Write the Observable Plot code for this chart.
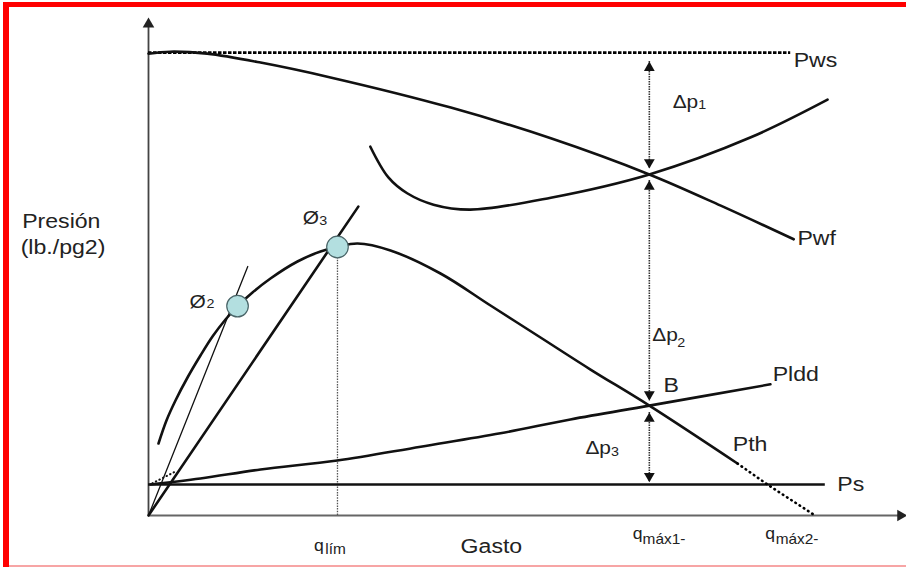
<!DOCTYPE html>
<html><head><meta charset="utf-8">
<script src="https://cdn.jsdelivr.net/npm/d3@7"></script>
<script src="https://cdn.jsdelivr.net/npm/@observablehq/plot@0.6"></script>
<style>
html,body{margin:0;padding:0;background:#fff;}
#wrap{position:relative;width:906px;height:567px;overflow:hidden;background:#fff;}
#wrap svg{position:absolute;left:0;top:0;}
.bd{position:absolute;}
</style></head><body>
<div id="wrap"></div>
<script>
// ---- data (arbitrary units: gasto 0-100, presión 0-100) ----
const pwsLevel = 93.5, pwsEnd = 85.4;
const pwfX = [0, 2.9, 7.8, 14.9, 24.2, 40.2, 53.5, 66.6, 76.1, 85.8];
const pwfY = [93.3, 93.7, 93.3, 91.5, 88.5, 82.4, 76.2, 68.9, 62.6, 55.8];
const tubX = [29.5, 31.9, 34.4, 37.9, 42.8, 53.5, 66.6, 80.1, 90.3];
const tubY = [74.5, 68.3, 65.1, 62.8, 61.8, 64.2, 68.9, 76.4, 84.0];
const pthX = [1.33, 2.39, 3.59, 5.19, 6.91, 8.51, 10.24, 11.84, 13.83, 16.22, 19.81, 22.87, 25.13, 27.79, 32.18, 38.83, 45.48, 52.13, 58.78, 66.6, 78.32];
const pthY = [14.55, 19.19, 23.23, 27.88, 32.32, 36.16, 39.60, 42.3, 45.05, 47.88, 51.31, 53.33, 54.24, 54.95, 53.54, 48.89, 42.42, 35.96, 29.49, 22.2, 10.51];
const pthExtX = [78.32, 82.31, 88.43];
const pthExtY = [10.51, 6.26, 0.2];
const plddX = [0.27, 6.9, 14.9, 25.1, 36.2, 46.8, 56.1, 66.6, 82.7];
const plddY = [6.26, 7.47, 9.29, 11.1, 13.9, 16.6, 19.4, 22.2, 26.5];
const plddDotX = [0.5, 3.6];
const plddDotY = [6.5, 8.9];
const psLevel = 6.26, psEnd = 90.0;
const phiNames = ["Ø", "Ø"];
const phiSubs = ["2", "3"];
const phiX = [11.84, 25.13];
const phiY = [42.3, 54.24];
const phiLineEndX = [13.2, 27.9];
const phiLineEndY = [50.3, 62.4];
const qLim = 25.13, qMax1 = 66.6;
const dpTop = [91.7, 67.7, 20.8];
const dpBottom = [70.1, 23.2, 6.7];
const axisTop = 100.6, axisRight = 100.9;

// ---- labels ----
const curveLabels = ["Pws", "Pwf", "Pldd", "Ps", "Pth", "B"];
const curveLabelX = [85.8, 86.3, 83.0, 91.6, 77.7, 68.5];
const curveLabelY = [92.0, 56.0, 28.5, 6.3, 14.3, 26.3];
const dpLabelX = [69.7, 67.0, 58.1];
const dpLabelY = [83.6, 36.4, 13.7];
const dpSubs = ["1", "2", "3"];
const dpSubX = [73.1, 70.3, 61.5];
const dpSubY = [83.0, 34.9, 12.9];
const phiLabelX = [5.45, 20.5];
const phiLabelY = [43.2, 60.2];
const phiSubX = [7.7, 22.7];
const phiSubY = [42.8, 59.6];
const axisTitles = ["Presión", "(lb./pg2)", "Gasto"];
const axisTitleX = [-16.8, -17.0, 41.5];
const axisTitleY = [59.4, 54.1, -6.26];
const qSubs = ["lím", "máx1-", "máx2-"];
const qX = [22.0, 64.4, 82.0];
const qY = [-6.06, -3.64, -3.64];
const qSubX = [23.5, 65.7, 83.4];
const qSubY = [-6.87, -4.75, -4.75];

// ---- helpers ----
const pts = (xs, ys) => xs.map((x, i) => ({x, y: ys[i]}));
const lab = (ts, xs, ys) => ts.map((t, i) => ({t, x: xs[i], y: ys[i]}));
const ink = "#111", txt = "#222";

const dp = dpTop.map((t, i) => ({top: t, bottom: dpBottom[i]}));
const phiLines = phiLineEndX.map((x, i) => [{x: 0, y: 0, k: i}, {x, y: phiLineEndY[i], k: i}]).flat();

const plot = Plot.plot({
  width: 906, height: 567,
  marginLeft: 148, marginRight: 6, marginTop: 20, marginBottom: 52,
  x: {domain: [0, 100], axis: null},
  y: {domain: [0, 100], axis: null},
  style: {fontFamily: "'Liberation Sans', Arial, sans-serif", background: "transparent", overflow: "visible"},
  marks: [
    // axes
    Plot.ruleX([0], {y1: 0, y2: axisTop - 1.5, stroke: "#444", strokeWidth: 1.8}),
    Plot.ruleY([0], {x1: 0, x2: axisRight - 1, stroke: "#666", strokeWidth: 1.8}),
    Plot.dot([{x: 0, y: axisTop}], {x: "x", y: "y", symbol: "triangle", r: 4.3, fill: "#222", stroke: null, dy: 6.7}),
    Plot.dot([{x: axisRight, y: 0}], {x: "x", y: "y", symbol: "triangle", r: 4.3, fill: "#222", stroke: null, rotate: 90, dx: -6.7}),
    // q_lim dotted
    Plot.ruleX([qLim], {y1: 0, y2: phiY[1] - 2, stroke: "#555", strokeWidth: 1.3, strokeDasharray: "1.5,1.2"}),
    // Pws dotted
    Plot.ruleY([pwsLevel], {x1: 0, x2: pwsEnd, stroke: "#000", strokeWidth: 2.8, strokeDasharray: "3.5,1.5"}),
    // Ps
    Plot.ruleY([psLevel], {x1: 0, x2: psEnd, stroke: ink, strokeWidth: 2.4}),
    // curves
    Plot.line(pts(pwfX, pwfY), {x: "x", y: "y", curve: "catmull-rom", stroke: ink, strokeWidth: 2.6}),
    Plot.line(pts(tubX, tubY), {x: "x", y: "y", curve: "catmull-rom", stroke: ink, strokeWidth: 2.6}),
    Plot.line(pts(plddX, plddY), {x: "x", y: "y", curve: "catmull-rom", stroke: ink, strokeWidth: 2.6}),
    Plot.line(pts(plddDotX, plddDotY), {x: "x", y: "y", stroke: ink, strokeWidth: 2, strokeLinecap: "round", strokeDasharray: "0.5,3.5"}),
    Plot.line(pts(pthX, pthY), {x: "x", y: "y", curve: "catmull-rom", stroke: ink, strokeWidth: 2.6}),
    Plot.line(pts(pthExtX, pthExtY), {x: "x", y: "y", stroke: "#000", strokeWidth: 2.6, strokeLinecap: "round", strokeDasharray: "0.5,4.5"}),
    // choke lines through origin
    Plot.line(phiLines.filter(d => d.k === 0), {x: "x", y: "y", stroke: ink, strokeWidth: 1.3}),
    Plot.line(phiLines.filter(d => d.k === 1), {x: "x", y: "y", stroke: ink, strokeWidth: 2.6}),
    // delta p arrows
    Plot.ruleX(dp, {x: () => qMax1, y1: "top", y2: "bottom", stroke: "#333", strokeWidth: 1.6, strokeDasharray: "1.5,1"}),
    Plot.dot(dp, {x: () => qMax1, y: "top", symbol: "triangle", r: 4, fill: ink, stroke: null, dy: 6.2}),
    Plot.dot(dp, {x: () => qMax1, y: "bottom", symbol: "triangle", r: 4, fill: ink, stroke: null, rotate: 180, dy: -6.2}),
    // phi points
    Plot.dot(pts(phiX, phiY), {x: "x", y: "y", r: 10.8, fill: "#b3dfe0", stroke: "#4a6568", strokeWidth: 1.2}),
    // labels
    Plot.text(lab(curveLabels, curveLabelX, curveLabelY), {x: "x", y: "y", text: "t", textAnchor: "start", fontSize: 21, fill: txt}),
    Plot.text(lab(dpLabelX.map(() => "Δp"), dpLabelX, dpLabelY), {x: "x", y: "y", text: "t", textAnchor: "start", fontSize: 19, fill: txt}),
    Plot.text(lab(dpSubs, dpSubX, dpSubY), {x: "x", y: "y", text: "t", textAnchor: "start", fontSize: 13, fill: txt}),
    Plot.text(lab(phiNames, phiLabelX, phiLabelY), {x: "x", y: "y", text: "t", textAnchor: "start", fontSize: 19, fill: txt}),
    Plot.text(lab(phiSubs, phiSubX, phiSubY), {x: "x", y: "y", text: "t", textAnchor: "start", fontSize: 13, fill: txt}),
    Plot.text(lab(axisTitles, axisTitleX, axisTitleY), {x: "x", y: "y", text: "t", textAnchor: "start", fontSize: 21, fill: txt}),
    Plot.text(lab(qX.map(() => "q"), qX, qY), {x: "x", y: "y", text: "t", textAnchor: "start", fontSize: 16, fill: txt}),
    Plot.text(lab(qSubs, qSubX, qSubY), {x: "x", y: "y", text: "t", textAnchor: "start", fontSize: 14, fill: txt})
  ]
});

// slight horizontal stretch of the lettering, as in the reference image
const sx = 1.1;
plot.querySelectorAll("text").forEach(t => {
  const tr = t.getAttribute("transform");
  const x = t.getAttribute("x"), y = t.getAttribute("y");
  if (!tr && x != null) {
    t.setAttribute("transform", `translate(${x},${y}) scale(${sx},1)`);
    t.removeAttribute("x"); t.removeAttribute("y");
  } else {
    t.setAttribute("transform", (tr || "") + ` scale(${sx},1)`);
  }
});

const wrap = document.getElementById("wrap");
wrap.appendChild(plot);
const bar = (l, t, w, h, c) => {
  const d = document.createElement("div");
  d.className = "bd";
  Object.assign(d.style, {left: l + "px", top: t + "px", width: w + "px", height: h + "px", background: c});
  wrap.appendChild(d);
};
bar(3, 2, 6, 565, "#ff0000");
bar(3, 2, 903, 5, "#ff0000");
bar(9, 565, 897, 1.5, "#f7a5a5");
</script>
</body></html>
